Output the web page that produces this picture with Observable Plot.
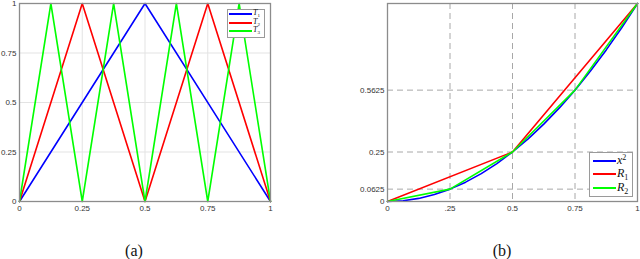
<!DOCTYPE html>
<html><head><meta charset="utf-8">
<script src="https://cdn.jsdelivr.net/npm/d3@7"></script>
<script src="https://cdn.jsdelivr.net/npm/@observablehq/plot@0.6"></script>
<style>
html,body{margin:0;padding:0;background:#fff;}
#wrap{position:relative;width:640px;height:259px;overflow:hidden;}
.panel{position:absolute;top:0;}
.cap{position:absolute;font-family:"Liberation Serif","Times New Roman",serif;font-size:16px;line-height:16px;color:#111;transform:translateX(-50%);}
.leg{position:absolute;background:#fff;border:1px solid #9a9a9a;box-sizing:border-box;}
.sw{position:absolute;height:2px;}
.lab{position:absolute;font-family:"Liberation Serif","Times New Roman",serif;font-style:italic;color:#111;white-space:nowrap;}
.sub{position:relative;font-style:normal;}
</style></head>
<body><div id="wrap"></div>
<script>
// ---- Panel (a) data ----
const t1X = [0, 0.5, 1];
const t1Y = [0, 1, 0];
const t2X = [0, 0.25, 0.5, 0.75, 1];
const t2Y = [0, 1, 0, 1, 0];
const t3X = [0, 0.125, 0.25, 0.375, 0.5, 0.625, 0.75, 0.875, 1];
const t3Y = [0, 1, 0, 1, 0, 1, 0, 1, 0];
const aTicks = [0, 0.25, 0.5, 0.75, 1];
const aTickLabels = ["0", "0.25", "0.5", "0.75", "1"];
const aSeries = ["T1", "T2", "T3"];
const seriesColors = ["#0000ff", "#ff0000", "#00ff00"];

// ---- Panel (b) data ----
const sqX = [0, 0.0625, 0.125, 0.1875, 0.25, 0.3125, 0.375, 0.4375, 0.5, 0.5625, 0.625, 0.6875, 0.75, 0.8125, 0.875, 0.9375, 1];
const sqY = [0, 0.0039, 0.0156, 0.0352, 0.0625, 0.0977, 0.1406, 0.1914, 0.25, 0.3164, 0.3906, 0.4727, 0.5625, 0.6602, 0.7656, 0.8789, 1];
const r1X = [0, 0.5, 1];
const r1Y = [0, 0.25, 1];
const r2X = [0, 0.25, 0.5, 0.75, 1];
const r2Y = [0, 0.0625, 0.25, 0.5625, 1];
const bXTicks = [0, 0.25, 0.5, 0.75, 1];
const bXTickLabels = ["0", ".25", "0.5", "0.75", "1"];
const bYTicks = [0, 0.0625, 0.25, 0.5625];
const bYTickLabels = ["0", "0.0625", "0.25", "0.5625"];
const bSeries = ["x2", "R1", "R2"];

const toRows = (xs, ys, s) => xs.map((x, i) => ({x, y: ys[i], s}));
const fmt = (ticks, labels) => d => labels[ticks.indexOf(d)] ?? "";

const wrap = document.getElementById("wrap");
const axisStyle = {fontSize: "8px", fontFamily: "Liberation Sans, Arial, sans-serif", color: "#333", background: "transparent"};

// Panel (a)
const aData = [...toRows(t1X, t1Y, "T1"), ...toRows(t2X, t2Y, "T2"), ...toRows(t3X, t3Y, "T3")];
const plotA = Plot.plot({
  width: 320, height: 216,
  marginLeft: 19, marginRight: 50, marginTop: 3, marginBottom: 15,
  style: axisStyle,
  x: {domain: [0, 1], ticks: aTicks, tickFormat: fmt(aTicks, aTickLabels), tickSize: 0, tickPadding: 4, label: null},
  y: {domain: [0, 1], ticks: aTicks, tickFormat: fmt(aTicks, aTickLabels), tickSize: 0, tickPadding: 3, label: null},
  color: {domain: aSeries, range: seriesColors},
  marks: [
    Plot.gridX(aTicks, {stroke: "#e3e3e3", strokeOpacity: 1, strokeWidth: 1}),
    Plot.gridY(aTicks, {stroke: "#e3e3e3", strokeOpacity: 1, strokeWidth: 1}),
    Plot.line(aData, {x: "x", y: "y", z: "s", stroke: "s", strokeWidth: 1.6}),
    Plot.frame({stroke: "#8c8c8c", strokeWidth: 1.3})
  ]
});
plotA.classList.add("panel");
plotA.style.left = "0px";
wrap.appendChild(plotA);

// Panel (b)
const bData = [...toRows(sqX, sqY, "x2"), ...toRows(r1X, r1Y, "R1"), ...toRows(r2X, r2Y, "R2")];
const plotB = Plot.plot({
  width: 320, height: 216,
  marginLeft: 67, marginRight: 3, marginTop: 3, marginBottom: 15,
  style: axisStyle,
  x: {domain: [0, 1], ticks: bXTicks, tickFormat: fmt(bXTicks, bXTickLabels), tickSize: 0, tickPadding: 4, label: null},
  y: {domain: [0, 1], ticks: bYTicks, tickFormat: fmt(bYTicks, bYTickLabels), tickSize: 0, tickPadding: 3, label: null},
  color: {domain: bSeries, range: seriesColors},
  marks: [
    Plot.gridX(bXTicks.slice(1, -1), {stroke: "#a8a8a8", strokeOpacity: 1, strokeWidth: 1, strokeDasharray: "6,4"}),
    Plot.gridY(bYTicks.slice(1), {stroke: "#a8a8a8", strokeOpacity: 1, strokeWidth: 1, strokeDasharray: "6,4"}),
    Plot.line(bData, {x: "x", y: "y", z: "s", stroke: "s", strokeWidth: 1.6}),
    Plot.frame({stroke: "#8c8c8c", strokeWidth: 1.3})
  ]
});
plotB.classList.add("panel");
plotB.style.left = "320px";
wrap.appendChild(plotB);

// Legends (page-pixel layout)
function legend(left, top, w, h, items, rowYs, swLeft, swW, fontSize, subSize, subShift) {
  const box = document.createElement("div");
  box.className = "leg";
  Object.assign(box.style, {left: left + "px", top: top + "px", width: w + "px", height: h + "px"});
  wrap.appendChild(box);
  items.forEach((it, i) => {
    const sw = document.createElement("div");
    sw.className = "sw";
    Object.assign(sw.style, {left: swLeft + "px", top: (rowYs[i] - 1) + "px", width: swW + "px", background: it.color});
    wrap.appendChild(sw);
    const lab = document.createElement("div");
    lab.className = "lab";
    Object.assign(lab.style, {left: (swLeft + swW + 1) + "px", top: (rowYs[i] - fontSize * 0.6) + "px",
      fontSize: fontSize + "px", lineHeight: fontSize + "px"});
    lab.innerHTML = it.base + "<span class='sub' style='font-size:" + subSize + "px;top:" + it.shift + "px'>" + it.idx + "</span>";
    wrap.appendChild(lab);
  });
}
legend(227, 9, 38, 29,
  aSeries.map((s, i) => ({color: seriesColors[i], base: "T", idx: String(i + 1), shift: 2})),
  [14, 23, 31], 229, 23, 8, 5);
legend(589, 152, 44, 45,
  [{color: seriesColors[0], base: "x", idx: "2", shift: -4},
   {color: seriesColors[1], base: "R", idx: "1", shift: 3},
   {color: seriesColors[2], base: "R", idx: "2", shift: 3}],
  [161, 174, 188], 593, 23, 12, 8);

// Captions
const caps = [["(a)", 134], ["(b)", 502]];
caps.forEach(([t, x]) => {
  const c = document.createElement("div");
  c.className = "cap"; c.textContent = t;
  c.style.left = x + "px"; c.style.top = "243px";
  wrap.appendChild(c);
});
</script></body></html>
